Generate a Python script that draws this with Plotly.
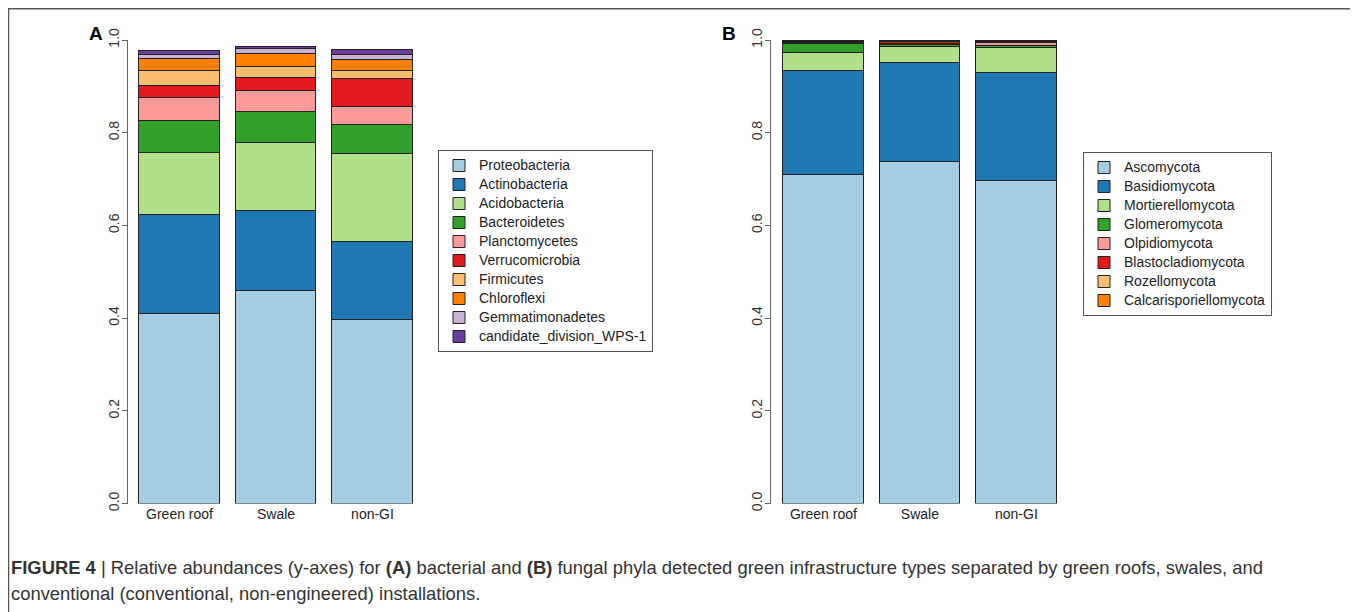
import plotly.graph_objects as go

# page is 1358x612; the html body has an 8px margin, so the figure is 8px smaller
OFF = 8
W, H = 1358 - OFF, 612 - OFF

# ---------------- data ----------------
sites = ["Green roof", "Swale", "non-GI"]

bact_phyla = ["Proteobacteria", "Actinobacteria", "Acidobacteria", "Bacteroidetes",
              "Planctomycetes", "Verrucomicrobia", "Firmicutes", "Chloroflexi",
              "Gemmatimonadetes", "candidate_division_WPS-1"]
proteobacteria = [0.408, 0.4585, 0.395]
actinobacteria = [0.214, 0.1725, 0.170]
acidobacteria = [0.135, 0.146, 0.188]
bacteroidetes = [0.068, 0.068, 0.064]
planctomycetes = [0.049, 0.045, 0.0385]
verrucomicrobia = [0.027, 0.028, 0.060]
firmicutes = [0.032, 0.0245, 0.018]
chloroflexi = [0.027, 0.027, 0.0225]
gemmatimonadetes = [0.007, 0.011, 0.0115]
wps1 = [0.009, 0.005, 0.010]
bact_values = [proteobacteria, actinobacteria, acidobacteria, bacteroidetes,
               planctomycetes, verrucomicrobia, firmicutes, chloroflexi,
               gemmatimonadetes, wps1]

fung_phyla = ["Ascomycota", "Basidiomycota", "Mortierellomycota", "Glomeromycota",
              "Olpidiomycota", "Blastocladiomycota", "Rozellomycota",
              "Calcarisporiellomycota"]
ascomycota = [0.709, 0.737, 0.696]
basidiomycota = [0.224, 0.214, 0.232]
mortierellomycota = [0.038, 0.0346, 0.055]
glomeromycota = [0.020, 0.003, 0.003]
olpidiomycota = [0.002, 0.003, 0.008]
blastocladiomycota = [0.002, 0.005, 0.002]
rozellomycota = [0.002, 0.001, 0.001]
calcarisporiellomycota = [0.002, 0.001, 0.001]
fung_values = [ascomycota, basidiomycota, mortierellomycota, glomeromycota,
               olpidiomycota, blastocladiomycota, rozellomycota,
               calcarisporiellomycota]

palette = ["#A6CEE3", "#1F78B4", "#B2DF8A", "#33A02C", "#FB9A99",
           "#E31A1C", "#FDBF6F", "#FF7F00", "#CAB2D6", "#6A3D9A"]

y_ticks = [0.0, 0.2, 0.4, 0.6, 0.8, 1.0]
y_ticktext = ["0.0", "0.2", "0.4", "0.6", "0.8", "1.0"]

FONT = "Liberation Sans, Arial, Helvetica, sans-serif"


def px_x(p):
    return (p - OFF) / W


def px_y(p):
    return 1 - (p - OFF) / H


fig = go.Figure()
xpos = list(range(len(sites)))
BAR_W = 0.835

for i, (name, vals) in enumerate(zip(bact_phyla, bact_values)):
    fig.add_trace(go.Bar(
        x=xpos, y=vals, width=BAR_W, name=f"<span style='font-size:14px'>{name}</span>",
        marker=dict(color=palette[i], line=dict(color="#222222", width=1)),
        xaxis="x", yaxis="y", legend="legend"))

for i, (name, vals) in enumerate(zip(fung_phyla, fung_values)):
    fig.add_trace(go.Bar(
        x=xpos, y=vals, width=BAR_W, name=f"<span style='font-size:14px'>{name}</span>",
        marker=dict(color=palette[i], line=dict(color="#222222", width=1)),
        xaxis="x2", yaxis="y2", legend="legend2"))

ydom = [px_y(503.5), px_y(40)]
yaxis_common = dict(
    domain=ydom, range=[0, 1], showgrid=False, zeroline=False, automargin=False,
    showline=True, linecolor="#666666", linewidth=1,
    ticks="outside", ticklen=5, tickcolor="#666666", tickwidth=1,
    tickvals=y_ticks, ticktext=y_ticktext, tickangle=-90, ticklabelstandoff=-3,
    tickfont=dict(family=FONT, size=14, color="#333333"))
xaxis_common = dict(
    showgrid=False, zeroline=False, showline=False, ticks="", automargin=False,
    tickvals=xpos, ticktext=sites,
    tickfont=dict(family=FONT, size=14, color="#222222"))

xa = dict(xaxis_common, domain=[px_x(128), px_x(425)], range=[-0.534, 2.544], anchor="y")
xb = dict(xaxis_common, domain=[px_x(771), px_x(1068)], range=[-0.543, 2.535], anchor="y2")

legend_common = dict(
    xanchor="left", yanchor="top", traceorder="normal",
    bgcolor="white", bordercolor="#555555", borderwidth=1,
    font=dict(family=FONT, size=11, color="#222222"))

fig.update_layout(
    width=W, height=H, margin=dict(l=0, r=0, t=0, b=0, autoexpand=False),
    paper_bgcolor="white", plot_bgcolor="white",
    barmode="stack", bargap=0,
    xaxis=xa, yaxis=dict(yaxis_common, anchor="x"),
    xaxis2=xb, yaxis2=dict(yaxis_common, anchor="x2"),
    legend=dict(legend_common, x=px_x(438), y=px_y(150)),
    legend2=dict(legend_common, x=px_x(1083), y=px_y(152)),
    font=dict(family=FONT),
)

# outer frame
fig.add_shape(type="rect", xref="paper", yref="paper",
              x0=px_x(8.5), x1=px_x(1354.5), y0=px_y(650), y1=px_y(8.75),
              line=dict(color="#555555", width=1.5), layer="below")

# panel labels
for lab, lx in (("A", 96), ("B", 729)):
    fig.add_annotation(text=f"<b>{lab}</b>", x=px_x(lx), y=px_y(33), xref="paper", yref="paper",
                       xanchor="center", yanchor="middle", showarrow=False,
                       font=dict(family=FONT, size=19, color="black"))

# caption
cap1 = ("<b>FIGURE 4</b> | Relative abundances (y-axes) for <b>(A)</b> bacterial and <b>(B)</b> "
        "fungal phyla detected green infrastructure types separated by green roofs, swales, and")
cap2 = "conventional (conventional, non-engineered) installations."
for txt, yy in ((cap1, 567), (cap2, 593)):
    fig.add_annotation(text=txt, x=px_x(9), y=px_y(yy), xref="paper", yref="paper",
                       xanchor="left", yanchor="middle", showarrow=False,
                       font=dict(family=FONT, size=18.4, color="#333333"))

fig.write_html("out.html")
